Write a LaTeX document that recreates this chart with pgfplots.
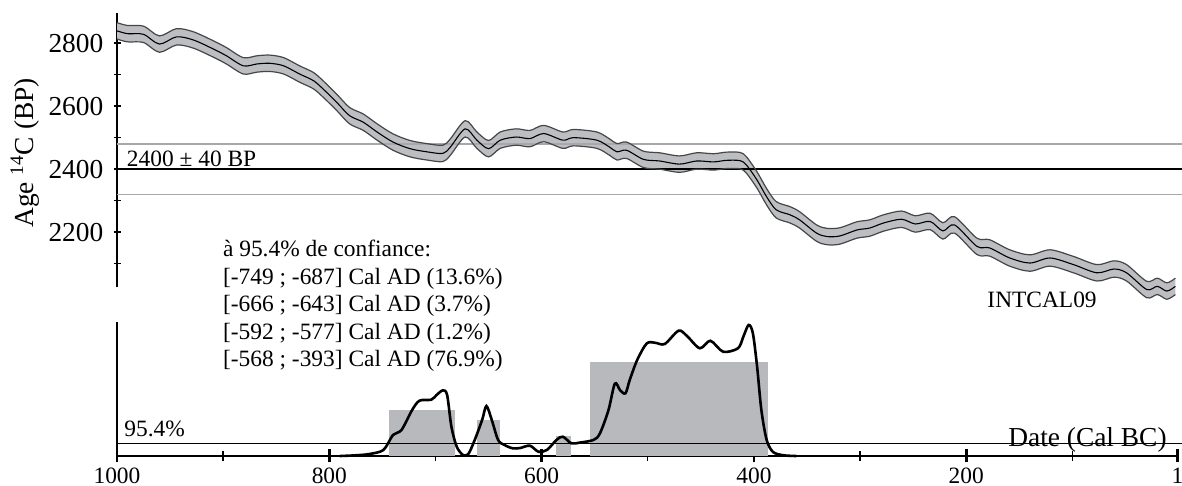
\documentclass[border=0pt]{standalone}
\usepackage{fontspec}
\setmainfont{Liberation Serif}
\usepackage{pgfplots}
\usepackage{pgfplotstable}
\pgfplotsset{compat=1.18}
\usepgfplotslibrary{fillbetween}
\definecolor{bandfill}{RGB}{189,190,194}
\definecolor{bandedge}{RGB}{70,70,72}
\definecolor{barfill}{RGB}{184,185,189}
\definecolor{sigline}{RGB}{168,168,172}

\pgfplotstableread{
v a
1000 2839
990 2830
975 2828
960 2797
944 2820
928 2810
909 2781
897 2760
881 2728
868 2734
856 2736
843 2728
828 2702
815 2681
806 2655
793 2612
781 2570
768 2549
755 2518
740 2486
724 2465
708 2455
693 2450
686 2470
672 2528
661 2492
650 2465
639 2492
624 2502
611 2497
598 2513
580 2492
570 2500
548 2492
536 2470
529 2455
520 2460
504 2431
489 2426
470 2416
454 2426
438 2423
426 2428
413 2427
407 2413
397 2365
388 2312
379 2271
366 2255
357 2239
341 2197
331 2186
319 2188
303 2207
291 2213
278 2229
261 2241
248 2226
234 2234
222 2204
211 2223
190 2155
178 2150
159 2118
140 2102
121 2118
99 2097
77 2071
61 2083
49 2071
30 2018
20 2028
11 2013
3 2028
}\calib

\pgfplotstableread{
v p
790 0
780 0.003
770 0.008
762 0.015
749 0.045
740 0.157
732 0.194
722 0.343
715 0.413
704 0.42
699 0.455
693 0.49
689 0.455
685 0.22
680 0.07
674 0.007
669 0.015
663 0.12
656 0.27
652 0.373
647 0.27
641 0.12
635 0.082
627 0.057
620 0.06
611 0.077
603 0.032
595 0.045
586 0.12
580 0.144
572 0.095
564 0.1
551 0.12
545 0.17
537 0.343
531 0.54
526 0.49
521 0.468
517 0.567
510 0.716
501 0.84
493 0.845
484 0.836
471 0.935
463 0.895
451 0.804
441 0.86
429 0.778
415 0.804
410 0.89
405 0.978
401 0.916
397 0.666
393 0.343
388 0.12
382 0.03
372 0.005
360 0
}\prob

\begin{document}
\fontsize{11.7}{14}\selectfont
\begin{tikzpicture}
\begin{axis}[
  at={(58.5pt,99.35pt)}, anchor=south west,
  scale only axis, width=530.25pt, height=137.2pt,
  xmin=1, xmax=1000, x dir=reverse,
  ymin=2025, ymax=2896,
  axis x line=none, axis y line*=left,
  clip=false, no markers,
  ytick={2200,2400,2600,2800}, yticklabels={2200,2400,2600,2800},
  minor ytick={2100,2300,2500,2700},
  tick align=center,
  major tick length=3.5pt, minor tick length=3.5pt,
  every tick/.style={black, line width=0.8pt},
  y axis line style={line width=0.75pt},
  /pgf/number format/assume math mode=true,
  yticklabel style={xshift=-1pt, font=\fontsize{13.7}{16}\selectfont},
]
\addplot[sigline, line width=0.8pt] coordinates {(1000,2480) (-3,2480)};
\addplot[sigline, line width=0.8pt] coordinates {(1000,2320) (-3,2320)};
\addplot[black, line width=0.9pt] coordinates {(1000,2400) (-3,2400)};
\addplot[name path=up, draw=none, smooth] table[x=v, y expr=\thisrow{a}+26] {\calib};
\addplot[name path=lo, draw=none, smooth] table[x=v, y expr=\thisrow{a}-26] {\calib};
\addplot[bandfill] fill between[of=up and lo];
\addplot[bandedge, line width=0.6pt, smooth] table[x=v, y expr=\thisrow{a}+26] {\calib};
\addplot[bandedge, line width=0.6pt, smooth] table[x=v, y expr=\thisrow{a}-26] {\calib};
\addplot[black, line width=0.55pt, smooth] table[x=v, y=a] {\calib};
\node[anchor=base west, inner sep=0pt] at (axis cs:991,2409) {2400 ± 40 BP};
\node[anchor=center, inner sep=0pt] at (axis cs:128.6,1984) {INTCAL09};
\end{axis}

\begin{axis}[
  at={(58.5pt,15pt)}, anchor=south west,
  scale only axis, width=530.25pt, height=67pt,
  xmin=1, xmax=1000, x dir=reverse,
  ymin=0, ymax=1,
  axis x line*=bottom, axis y line*=left,
  ytick=\empty,
  xtick={1,200,400,600,800,1000}, xticklabels={1,200,400,600,800,1000},
  minor xtick={100,300,500,700,900},
  tick align=center,
  major tick length=6.5pt, minor tick length=5pt,
  major tick style={black, line width=1.4pt},
  minor tick style={black, line width=0.7pt},
  x axis line style={line width=1.3pt},
  y axis line style={line width=0.6pt},
  no markers, clip=false,
  /pgf/number format/assume math mode=true,
  xticklabel style={inner sep=0pt, yshift=-2.5pt, font=\fontsize{11.7}{14}\selectfont},
]
\addplot[fill=barfill, draw=none] coordinates {(744,0) (744,0.343) (682,0.343) (682,0)};
\addplot[fill=barfill, draw=none] coordinates {(661,0) (661,0.269) (639,0.269) (639,0)};
\addplot[fill=barfill, draw=none] coordinates {(586,0) (586,0.149) (572,0.149) (572,0)};
\addplot[fill=barfill, draw=none] coordinates {(554,0) (554,0.701) (387,0.701) (387,0)};
\addplot[black, line width=0.5pt] coordinates {(1000,0.09) (-3,0.09)};
\addplot[black, line width=1.3pt, smooth] table[x=v, y=p] {\prob};
\end{axis}

\node[anchor=base west, inner sep=0pt] at (111.35pt,114.5pt) {à 95.4\% de confiance:};
\node[anchor=base west, inner sep=0pt] at (111.35pt,100.75pt) {[-749 ; -687] Cal AD (13.6\%)};
\node[anchor=base west, inner sep=0pt] at (111.35pt,87pt) {[-666 ; -643] Cal AD (3.7\%)};
\node[anchor=base west, inner sep=0pt] at (111.35pt,73.25pt) {[-592 ; -577] Cal AD (1.2\%)};
\node[anchor=base west, inner sep=0pt] at (111.35pt,59.5pt) {[-568 ; -393] Cal AD (76.9\%)};
\node[anchor=base west, inner sep=0pt] at (62pt,24.5pt) {95.4\%};
\node[anchor=base east, inner sep=0pt, font=\fontsize{13.7}{16}\selectfont] at (583.5pt,19.5pt) {Date (Cal BC)};
\node[rotate=90, anchor=center, inner sep=0pt, font=\fontsize{13.7}{16}\selectfont] at (12.5pt,166.5pt) {Age \textsuperscript{14}C (BP)};
\pgfresetboundingbox
\path[use as bounding box] (0,0) rectangle (591pt,243pt);
\end{tikzpicture}
\end{document}
